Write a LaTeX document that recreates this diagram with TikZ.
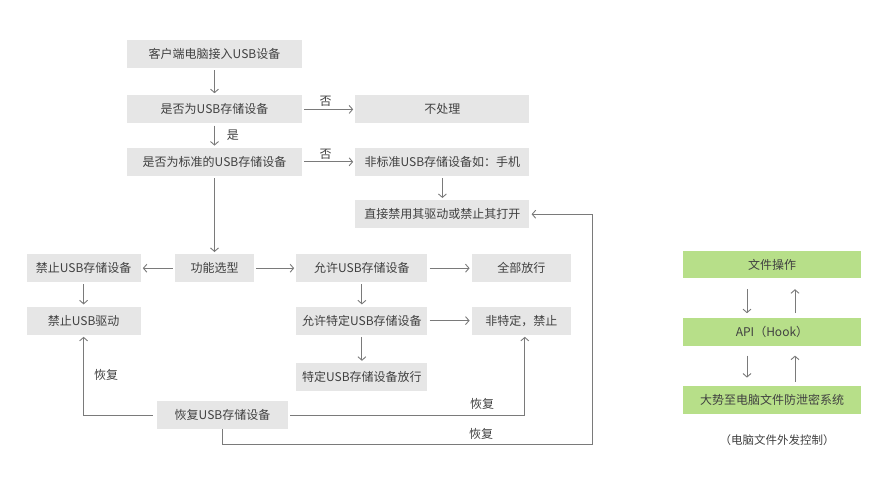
\documentclass[tikz,border=0pt]{standalone}
\usepackage{fontspec}
\setmainfont{Noto Sans CJK SC}
\usetikzlibrary{positioning, arrows.meta, calc}

\definecolor{boxgray}{HTML}{E6E6E6}
\definecolor{boxgreen}{HTML}{B7DF89}
\definecolor{linegray}{HTML}{7A7A7A}
\definecolor{textgray}{HTML}{404040}

\begin{document}
\begin{tikzpicture}[
    x=1pt, y=-1pt,
    font=\fontsize{12}{14}\selectfont,
    text=textgray,
    >={Straight Barb[length=3.5pt,width=8pt]},
    grayblock/.style={
        fill=boxgray,
        minimum width=175pt,
        minimum height=28pt,
        inner sep=2pt,
        align=center
    },
    greenblock/.style={
        fill=boxgreen,
        minimum width=178pt,
        minimum height=28pt,
        inner sep=2pt,
        align=center
    },
    flow/.style={->, draw=linegray, line width=0.9pt,
        shorten <=2pt, shorten >=2pt},
    downflow/.style={->, draw=linegray, line width=0.9pt,
        shorten <=11pt, shorten >=5pt},
    upflow/.style={->, draw=linegray, line width=0.9pt,
        shorten <=5pt, shorten >=11pt},
    flowlabel/.style={font=\fontsize{12}{14}\selectfont, inner sep=2pt}
]
\useasboundingbox (0,0) rectangle (894,499);
% ============================================================
% DETECTION CHAIN -- top to bottom
% ============================================================
\node[grayblock] (plugin) at (214.5,54) {客户端电脑接入USB设备};
\node[grayblock, below=27pt of plugin] (isstorage) {是否为USB存储设备};
\node[grayblock, below=24pt of isstorage] (isstandard) {是否为标准的USB存储设备};
\node[grayblock, minimum width=174pt, right=53pt of isstorage] (ignore) {不处理};
\node[grayblock, minimum width=174pt, right=53pt of isstandard] (nonstandard) {非标准USB存储设备如：手机};
\node[grayblock, minimum width=174pt, below=24pt of nonstandard] (blockdrv) {直接禁用其驱动或禁止其打开};
% ============================================================
% FUNCTION SELECTION ROW
% ============================================================
\node[grayblock, minimum width=79pt, below=78pt of isstandard] (select) {功能选型};
\node[grayblock, minimum width=114pt, left=34pt of select] (forbid) {禁止USB存储设备};
\node[grayblock, minimum width=131pt, right=42pt of select] (allow) {允许USB存储设备};
\node[grayblock, minimum width=99pt, right=44pt of allow] (allowall) {全部放行};
\node[grayblock, minimum width=114pt, below=24pt of forbid] (nodriver) {禁止USB驱动};
\node[grayblock, minimum width=131pt, below=24pt of allow] (allowsome) {允许特定USB存储设备};
\node[grayblock, minimum width=99pt, right=44pt of allowsome] (notlisted) {非特定，禁止};
\node[grayblock, minimum width=131pt, below=28pt of allowsome] (listedpass) {特定USB存储设备放行};
\node[grayblock, minimum width=131pt] (restore) at (222.5,415) {恢复USB存储设备};
\coordinate (loopcorner) at (592,444);
% ============================================================
% MAIN FLOW ARROWS
% ============================================================
\draw[flow] (plugin) -- (isstorage);
\draw[flow] (isstorage) -- node[flowlabel, right, xshift=10pt] {是} (isstandard);
\draw[flow] (isstorage) -- node[flowlabel, above, xshift=-3pt] {否} (ignore);
\draw[flow] (isstandard) -- node[flowlabel, above, xshift=-3pt] {否} (nonstandard);
\draw[flow] (nonstandard) -- (blockdrv);
\draw[flow] (isstandard) -- (select);
\draw[flow] (select) -- (forbid);
\draw[flow] (select) -- (allow);
\draw[flow] (allow) -- (allowall);
\draw[flow] (forbid) -- (nodriver);
\draw[flow] (allow) -- (allowsome);
\draw[flow] (allowsome) -- (notlisted);
\draw[flow] (allowsome) -- (listedpass);
% ============================================================
% RESTORE ARROWS
% ============================================================
\draw[flow, shorten <=4pt] (restore.west) -| node[flowlabel, pos=0.75, right, xshift=8pt] {恢复} (nodriver.south);
\draw[flow] (restore.east) -| node[flowlabel, pos=0.41, above, yshift=3pt] {恢复} ($(notlisted.south)+(3.5,0)$);
\draw[flow, shorten <=0pt] (restore.south) |- node[flowlabel, pos=0.85, above, yshift=2pt] {恢复} (loopcorner) |- (blockdrv.east);
% ============================================================
% RIGHT PANEL -- file operation hook
% ============================================================
\node[greenblock, minimum height=27pt] (fileop) at (772,264.5) {文件操作};
\node[greenblock, below=40pt of fileop] (apihook) {API（Hook）};
\node[greenblock, below=39pt of apihook] (dlp) {大势至电脑文件防泄密系统};
\node[font=\fontsize{11.5}{13}\selectfont] (caption) at (777,440) {（电脑文件外发控制）};
\draw[downflow] ([xshift=-25pt]fileop.south) -- ([xshift=-25pt]apihook.north);
\draw[upflow] ([xshift=23pt]apihook.north) -- ([xshift=23pt]fileop.south);
\draw[downflow, shorten <=9pt, shorten >=8pt] ([xshift=-25pt]apihook.south) -- ([xshift=-25pt]dlp.north);
\draw[upflow, shorten <=4pt, shorten >=9pt] ([xshift=23pt]dlp.north) -- ([xshift=23pt]apihook.south);
\end{tikzpicture}
\end{document}
